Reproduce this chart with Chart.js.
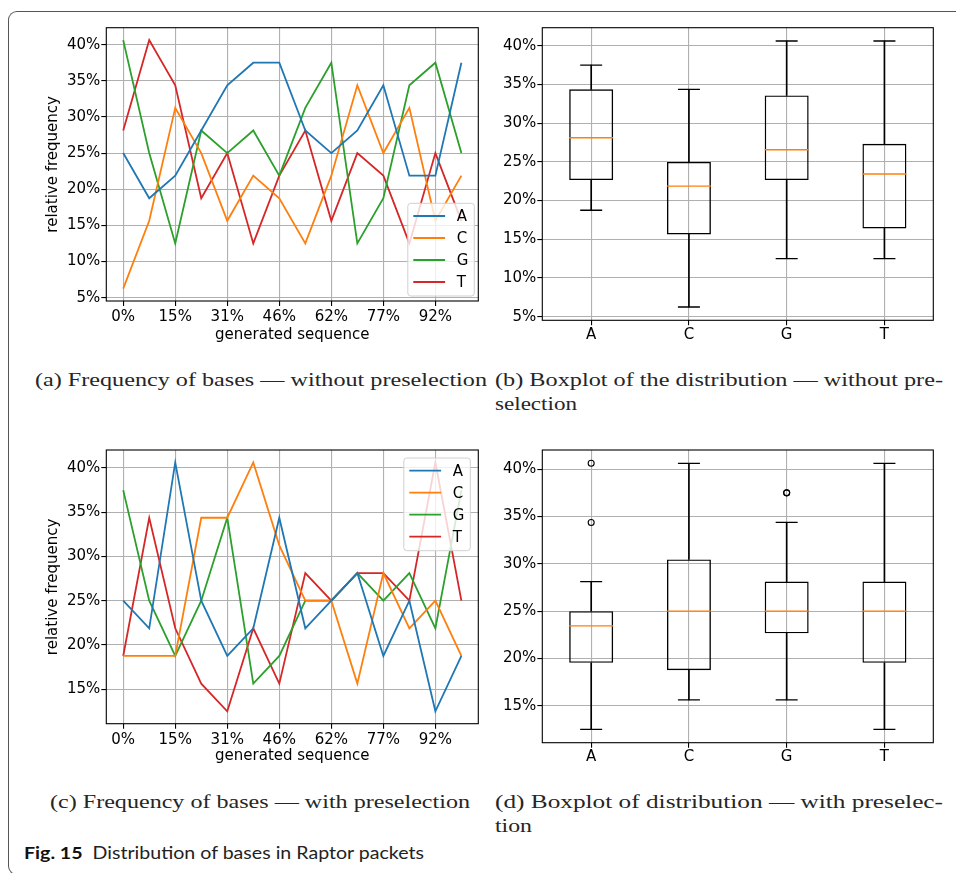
<!DOCTYPE html>
<html><head><meta charset="utf-8">
<script src="https://cdn.jsdelivr.net/npm/chart.js@4.4.1/dist/chart.umd.min.js"></script>
<style>
html,body{margin:0;padding:0;background:#fff;width:956px;height:873px;overflow:hidden;position:relative;}
#frame{position:absolute;left:8px;top:11px;width:1000px;height:864px;border-left:1.3px solid #555;border-top:1.3px solid #555;border-bottom:1.3px solid #555;border-radius:9px;box-sizing:border-box;}
canvas{position:absolute;}
.cap{position:absolute;font-family:"Liberation Serif","Times New Roman",serif;font-size:19px;line-height:24px;white-space:nowrap;transform-origin:0 50%;color:#262626;}
#fig{position:absolute;font-family:Lato,"Open Sans",sans-serif;font-size:17px;line-height:22px;white-space:nowrap;transform-origin:0 50%;color:#222;}
#fig b{font-weight:700;color:#111;}
</style></head><body>
<div id="frame"></div>
<canvas id="ca" width="490" height="360" style="left:0;top:0;width:490px;height:360px"></canvas>
<canvas id="cb" width="466" height="360" style="left:490px;top:0;width:466px;height:360px"></canvas>
<canvas id="cc" width="490" height="340" style="left:0;top:440px;width:490px;height:340px"></canvas>
<canvas id="cd" width="466" height="340" style="left:490px;top:440px;width:466px;height:340px"></canvas>

<div class="cap" id="capA" style="left:35px;top:368px">(a) Frequency of bases — without preselection</div>
<div class="cap" id="capB1" style="left:495px;top:368px">(b) Boxplot of the distribution — without pre-</div>
<div class="cap" id="capB2" style="left:495px;top:392px">selection</div>
<div class="cap" id="capC" style="left:50px;top:790px">(c) Frequency of bases — with preselection</div>
<div class="cap" id="capD1" style="left:495px;top:790px">(d) Boxplot of distribution — with preselec-</div>
<div class="cap" id="capD2" style="left:495px;top:814px">tion</div>
<div id="fig" style="left:24px;top:842px"><b>Fig. 15</b>&nbsp; Distribution of bases in Raptor packets</div>

<script>
// ---------- data ----------
const bases = ['A', 'C', 'G', 'T'];
const seqPositions = [0, 1, 2, 3, 4, 5, 6, 7, 8, 9, 10, 11, 12, 13];
const xTickPositions = [0, 2, 4, 6, 8, 10, 12];
const xTickLabels = ['0%', '15%', '31%', '46%', '62%', '77%', '92%'];

// (a)/(b) without preselection, relative frequency in %
const noPreA = [25, 18.75, 21.875, 28.125, 34.375, 37.5, 37.5, 28.125, 25, 28.125, 34.375, 21.875, 21.875, 37.5];
const noPreC = [6.25, 15.625, 31.25, 25, 15.625, 21.875, 18.75, 12.5, 21.875, 34.375, 25, 31.25, 15.625, 21.875];
const noPreG = [40.625, 25, 12.5, 28.125, 25, 28.125, 21.875, 31.25, 37.5, 12.5, 18.75, 34.375, 37.5, 25];
const noPreT = [28.125, 40.625, 34.375, 18.75, 25, 12.5, 21.875, 28.125, 15.625, 25, 21.875, 12.5, 25, 15.625];

// (c)/(d) with preselection
const preA = [25, 21.875, 40.625, 25, 18.75, 21.875, 34.375, 21.875, 25, 28.125, 18.75, 25, 12.5, 18.75];
const preC = [18.75, 18.75, 18.75, 34.375, 34.375, 40.625, 31.25, 25, 25, 15.625, 28.125, 21.875, 25, 18.75];
const preG = [37.5, 25, 18.75, 25, 34.375, 15.625, 18.75, 25, 25, 28.125, 25, 28.125, 21.875, 37.5];
const preT = [18.75, 34.375, 21.875, 15.625, 12.5, 21.875, 15.625, 28.125, 25, 28.125, 28.125, 25, 40.625, 25];

const yTicksNoPre = [5, 10, 15, 20, 25, 30, 35, 40];
const yTicksPre = [15, 20, 25, 30, 35, 40];

const colors = ['#1f77b4', '#ff7f0e', '#2ca02c', '#d62728'];

// ---------- helpers ----------
Chart.defaults.font.family = '"DejaVu Sans", sans-serif';
Chart.defaults.font.size = 15;
Chart.defaults.color = '#000';

const FONT = {family: '"DejaVu Sans", sans-serif', size: 15};

function quantile(s, p) {
  const pos = (s.length - 1) * p, lo = Math.floor(pos), hi = Math.ceil(pos);
  return s[lo] + (s[hi] - s[lo]) * (pos - lo);
}
function boxStats(vals) {
  const s = [...vals].sort((a, b) => a - b);
  const q1 = quantile(s, 0.25), med = quantile(s, 0.5), q3 = quantile(s, 0.75);
  const iqr = q3 - q1, lo = q1 - 1.5 * iqr, hi = q3 + 1.5 * iqr;
  const inside = s.filter(v => v >= lo && v <= hi);
  return {q1, med, q3, wlo: Math.min(...inside), whi: Math.max(...inside), out: s.filter(v => v < lo || v > hi)};
}
function yRange(series) {
  const all = series.flat();
  const mn = Math.min(...all), mx = Math.max(...all), r = mx - mn;
  return {min: mn - 0.05 * r, max: mx + 0.05 * r};
}

const framePlugin = {
  id: 'axframe',
  afterDatasetsDraw(chart) {
    const {ctx, chartArea: a} = chart;
    ctx.save();
    ctx.strokeStyle = '#000';
    ctx.lineWidth = 1.1;
    ctx.strokeRect(a.left, a.top, a.right - a.left, a.bottom - a.top);
    ctx.restore();
  }
};

const legendPlugin = {
  id: 'boxLegend',
  afterDraw(chart, args, opts) {
    if (!opts || !opts.show) return;
    const {ctx, chartArea: a} = chart;
    const w = 66.5, h = 92.7;
    const x = a.right - opts.gapX - w;
    const y = opts.loc === 'upper' ? a.top + opts.gapY : a.bottom - opts.gapY - h;
    ctx.save();
    ctx.beginPath();
    const r = 3;
    ctx.moveTo(x + r, y);
    ctx.arcTo(x + w, y, x + w, y + h, r);
    ctx.arcTo(x + w, y + h, x, y + h, r);
    ctx.arcTo(x, y + h, x, y, r);
    ctx.arcTo(x, y, x + w, y, r);
    ctx.closePath();
    ctx.fillStyle = 'rgba(255,255,255,0.8)';
    ctx.fill();
    ctx.strokeStyle = '#d0d0d0';
    ctx.lineWidth = 1;
    ctx.stroke();
    ctx.font = '15px "DejaVu Sans"';
    ctx.textBaseline = 'middle';
    ctx.fillStyle = '#000';
    chart.data.datasets.forEach((ds, i) => {
      const yy = y + 12.7 + 22 * i;
      ctx.beginPath();
      ctx.moveTo(x + 5.5, yy);
      ctx.lineTo(x + 37.3, yy);
      ctx.strokeStyle = ds.borderColor;
      ctx.lineWidth = 1.8;
      ctx.stroke();
      ctx.fillText(ds.label, x + 49, yy + 1);
    });
    ctx.restore();
  }
};

function lineChart(id, series, yTicks, g, legend) {
  const n = seqPositions.length - 1;
  const yr = yRange(series);
  new Chart(document.getElementById(id), {
    type: 'line',
    data: {
      datasets: bases.map((b, i) => ({
        label: b,
        data: series[i].map((v, j) => ({x: seqPositions[j], y: v})),
        borderColor: colors[i], backgroundColor: colors[i],
        borderWidth: 1.8, pointRadius: 0, tension: 0, fill: false
      }))
    },
    options: {
      responsive: false, animation: false, events: [],
      layout: {autoPadding: false, padding: {left: 0, top: g.top, right: g.right, bottom: 0}},
      scales: {
        x: {
          type: 'linear', min: -0.05 * n, max: n * 1.05,
          afterBuildTicks: s => { s.ticks = xTickPositions.map(v => ({value: v})); },
          afterFit: s => { s.height = g.xh; },
          ticks: {callback: (v, i) => xTickLabels[i], font: FONT, color: '#000', padding: 2.5, maxRotation: 0, autoSkip: false},
          grid: {color: '#b0b0b0', lineWidth: 1.1, tickColor: '#000', tickLength: 5, tickWidth: 1.1},
          border: {display: false},
          title: {display: true, text: 'generated sequence', font: FONT, color: '#000', padding: {top: 0, bottom: g.tpb}}
        },
        y: {
          min: yr.min, max: yr.max,
          afterBuildTicks: s => { s.ticks = yTicks.map(v => ({value: v})); },
          afterFit: s => { s.width = g.yw; },
          ticks: {callback: v => v + '%', font: FONT, color: '#000', padding: 1},
          grid: {color: '#b0b0b0', lineWidth: 1.1, tickColor: '#000', tickLength: 5, tickWidth: 1.1},
          border: {display: false},
          title: {display: true, text: 'relative frequency', font: FONT, color: '#000', padding: {top: 44, bottom: 0}}
        }
      },
      plugins: {legend: {display: false}, tooltip: {enabled: false}, boxLegend: legend}
    },
    plugins: [framePlugin, legendPlugin]
  });
}

function boxChart(id, series, yTicks, g) {
  const stats = series.map(boxStats);
  const yr = yRange(series);
  const catW = c => { const a = c.chart.chartArea; return a ? (a.right - a.left) / bases.length : 97.75; };
  new Chart(document.getElementById(id), {
    type: 'bar',
    data: {
      labels: bases,
      datasets: [
        {type: 'bar', label: 'box', data: stats.map(s => [s.q1, s.q3]), backgroundColor: 'rgba(0,0,0,0)',
         borderColor: '#000', borderWidth: 1.4, borderSkipped: false, barPercentage: 0.45, categoryPercentage: 1, grouped: false, order: 1},
        {type: 'bar', label: 'lower whisker', data: stats.map(s => [s.wlo, s.q1]), backgroundColor: '#000',
         borderWidth: 0, barThickness: 1, grouped: false, order: 2},
        {type: 'bar', label: 'upper whisker', data: stats.map(s => [s.q3, s.whi]), backgroundColor: '#000',
         borderWidth: 0, barThickness: 1, grouped: false, order: 2},
        {type: 'line', label: 'lower cap', data: stats.map(s => s.wlo), showLine: false, pointStyle: 'line',
         pointRadius: c => catW(c) * 0.45 / 4, pointBorderColor: '#000', pointBorderWidth: 1.3, order: 0},
        {type: 'line', label: 'upper cap', data: stats.map(s => s.whi), showLine: false, pointStyle: 'line',
         pointRadius: c => catW(c) * 0.45 / 4, pointBorderColor: '#000', pointBorderWidth: 1.3, order: 0},
        {type: 'line', label: 'median', data: stats.map(s => s.med), showLine: false, pointStyle: 'line',
         pointRadius: c => catW(c) * 0.45 / 2, pointBorderColor: '#ff7f0e', pointBorderWidth: 1.4, order: 0},
        {type: 'line', label: 'outliers', data: stats.flatMap((s, i) => s.out.map(v => ({x: bases[i], y: v}))),
         showLine: false, pointStyle: 'circle', pointRadius: 3, pointBorderColor: '#000',
         pointBackgroundColor: 'rgba(0,0,0,0)', pointBorderWidth: 1.1, order: 0}
      ]
    },
    options: {
      responsive: false, animation: false, events: [],
      layout: {autoPadding: false, padding: {left: 0, top: g.top, right: g.right, bottom: 0}},
      scales: {
        x: {
          type: 'category', offset: true,
          afterFit: s => { s.height = g.xh; },
          ticks: {font: FONT, color: '#000', padding: 0.5, maxRotation: 0},
          grid: {offset: false, color: '#b0b0b0', lineWidth: 1.1, tickColor: '#000', tickLength: 5, tickWidth: 1.1},
          border: {display: false}
        },
        y: {
          min: yr.min, max: yr.max, beginAtZero: false,
          afterBuildTicks: s => { s.ticks = yTicks.map(v => ({value: v})); },
          afterFit: s => { s.width = g.yw; },
          ticks: {callback: v => v + '%', font: FONT, color: '#000', padding: 1},
          grid: {color: '#b0b0b0', lineWidth: 1.1, tickColor: '#000', tickLength: 5, tickWidth: 1.1},
          border: {display: false}
        }
      },
      plugins: {legend: {display: false}, tooltip: {enabled: false}}
    },
    plugins: [framePlugin]
  });
}

lineChart('ca', [noPreA, noPreC, noPreG, noPreT], yTicksNoPre,
  {top: 27.7, right: 11.7, xh: 59, yw: 106.3, tpb: 16}, {show: true, loc: 'lower', gapX: 4, gapY: 5});
boxChart('cb', [noPreA, noPreC, noPreG, noPreT], yTicksNoPre,
  {top: 27.7, right: 22.7, xh: 39.7, yw: 52.3});
lineChart('cc', [preA, preC, preG, preT], yTicksPre,
  {top: 9.3, right: 11.7, xh: 56.3, yw: 106.3, tpb: 14.5}, {show: true, loc: 'upper', gapX: 8, gapY: 8});
boxChart('cd', [preA, preC, preG, preT], yTicksPre,
  {top: 9.7, right: 22.7, xh: 37.3, yw: 52.3});

// fit caption widths to the reference layout
function fit(id, w) {
  const el = document.getElementById(id);
  const r = el.getBoundingClientRect().width;
  el.style.transform = 'scaleX(' + (w / r) + ')';
}
fit('capA', 452); fit('capB1', 448); fit('capB2', 82);
fit('capC', 420); fit('capD1', 448); fit('capD2', 37);
fit('fig', 400);
</script>
</body></html>
